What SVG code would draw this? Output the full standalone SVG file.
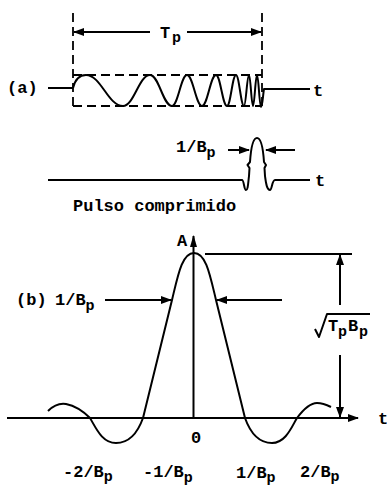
<svg xmlns="http://www.w3.org/2000/svg" width="387" height="487" viewBox="0 0 387 487">
<defs>
<marker id="ah" viewBox="0 0 11 8" markerWidth="11" markerHeight="8" refX="10" refY="4" orient="auto" markerUnits="userSpaceOnUse">
<path d="M0,0 L11,4 L0,8 z" fill="#000"/>
</marker>
<marker id="ahs" viewBox="0 0 12 7" markerWidth="12" markerHeight="7" refX="11" refY="3.5" orient="auto" markerUnits="userSpaceOnUse">
<path d="M0,0 L12,3.5 L0,7 z" fill="#000"/>
</marker>
</defs>
<style>
.ln{fill:none;stroke:#000;stroke-width:2;stroke-linejoin:round}
.dash{fill:none;stroke:#000;stroke-width:1.8;stroke-dasharray:9,5}
.arr{fill:none;stroke:#000;stroke-width:2;marker-end:url(#ah)}
.tx{font-family:"Liberation Mono","DejaVu Sans Mono",monospace;font-weight:bold;font-size:17px;fill:#000}
.sub{font-size:15px}
</style>
<rect width="387" height="487" fill="#fff"/>

<g id="panel-a-chirp">
<path class="dash" d="M73,13 L73,107 M262,13 L262,107 M73,75 L262,75 M73,106 L262,106"/>
<path class="ln" d="M48,88 L73,88"/>
<path class="ln" d="M73,88 C75,80 79,75 86,75 C101,75 108,106 123,106 C134,106 139,75 150,75 C159,75 163,106 172,106 C178,106 181,75 187,75 C193,75 196,106 202,106 C207.6,106 210.4,75 216,75 C220.4,75 222.6,106 227,106 C230.6,106 232.4,75 236,75 C239.2,75 240.8,106 244,106 C246,106 247,75 249,75 C250.6,75 251.4,106 253,106 C254.6,106 255.4,75 257,75 C258.6,75 259.4,107 261,107 C262.5,107 263,94 264,89 L310,89"/>
<text class="tx" x="7" y="93">(a)</text>
<text class="tx" x="313" y="96">t</text>
<text class="tx" x="160" y="38" font-size="18">T<tspan class="sub" x="172" y="42">p</tspan></text>
</g>

<g id="panel-a-pulse">
<path class="ln" d="M48,180 L242,180 C244,180 244,190 246,190 C248,190 248,184 249,176 L249.5,168 L247.5,165 L250,162 C251,147 253,138 257,138 C261,138 263,147 264,162 L266,165 L264.5,168 L265,176 C266,184 267,190 270,190 C272,190 272,180 275,180 L310,180"/>
<text class="tx" x="176" y="152">1/B<tspan class="sub" dy="5">p</tspan></text>
<text class="tx" x="315" y="186">t</text>
<text class="tx" x="73" y="211">Pulso comprimido</text>
</g>

<g id="panel-b-sinc">
<path class="ln" d="M48,411 C54,405 60,403 66,404 C76,406 85,413 90,418 C96,428 102,443 116,443 C130,443 138,432 143,418 L172,300 C178,275 182,253 194,253 C206,253 210,275 216,300 L245,418 C250,432 258,443 272,443 C286,443 292,426 297,418 C303,410 310,403 317,403 C323,403 327,405 331,407"/>
</g>

<g id="axes">
<path class="ln" d="M7,418 L358,418" marker-end="url(#ah)"/>
<path class="ln" d="M193.5,418 L193.5,236" marker-end="url(#ahs)"/>
<text class="tx" x="177" y="246">A</text>
<text class="tx" x="378" y="424">t</text>
<text class="tx" x="196" y="443" text-anchor="middle">0</text>
</g>

<g id="labels-b">
<text class="tx" x="16" y="305" font-size="16">(b)</text>
<text class="tx" x="55" y="305">1/B<tspan class="sub" dy="5">p</tspan></text>
<text class="tx" x="63" y="477">-2/B<tspan class="sub" dy="4">p</tspan></text>
<text class="tx" x="143" y="477">-1/B<tspan class="sub" dy="5">p</tspan></text>
<text class="tx" x="236" y="478">1/B<tspan class="sub" dy="4">p</tspan></text>
<text class="tx" x="300" y="477">2/B<tspan class="sub" dy="4">p</tspan></text>
<path class="ln" d="M315,329 L319,337 L327,314 L370,314"/>
<text class="tx" x="328" y="331">T<tspan class="sub" x="338" dy="5">p</tspan><tspan x="348" dy="-5">B</tspan><tspan class="sub" x="359" dy="5">p</tspan></text>
</g>

<g id="connectors">
<path class="arr" d="M150,32 L74,32"/>
<path class="arr" d="M187,32 L261,32"/>
<path class="arr" d="M228,150 L249,150"/>
<path class="arr" d="M295,150 L266,150"/>
<path class="arr" d="M105,300 L171,300"/>
<path class="arr" d="M282,300 L217,300"/>
<path class="ln" d="M205,254 L352,254"/>
<path class="arr" d="M340,305 L340,255"/>
<path class="arr" d="M340,355 L340,417"/>
</g>
</svg>
